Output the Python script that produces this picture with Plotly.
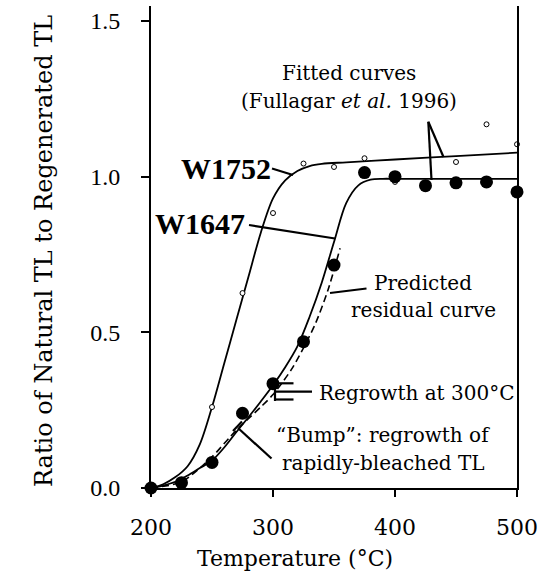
import plotly.graph_objects as go

# ---------------- data ----------------
# W1647: natural/regenerated ratio (filled dots)
t_1647 = [200, 225, 250, 275, 300, 325, 350, 375, 400, 425, 450, 475, 500]
r_1647 = [0.0, 0.017, 0.082, 0.24, 0.335, 0.47, 0.716, 1.013, 1.0, 0.971, 0.98, 0.983, 0.951]

# W1752: natural/regenerated ratio (open dots)
t_1752 = [200, 250, 275, 300, 325, 350, 375, 400, 450, 475, 500]
r_1752 = [0.0, 0.26, 0.626, 0.883, 1.042, 1.031, 1.059, 0.983, 1.047, 1.168, 1.104]

# fitted curve W1752 (Fullagar et al. 1996)
fit_t_1752 = [200, 210, 220, 230, 240, 250, 260, 270, 280, 290, 300, 310, 320, 330, 340, 360, 400, 450, 500]
fit_r_1752 = [0.0, 0.012, 0.035, 0.07, 0.14, 0.26, 0.40, 0.54, 0.68, 0.82, 0.93, 0.988, 1.018, 1.034, 1.041, 1.046, 1.055, 1.066, 1.077]

# fitted curve W1647
fit_t_1647 = [200, 210, 220, 230, 240, 250, 260, 270, 280, 290, 300, 310, 320, 330, 340, 350, 360, 370, 380, 390, 400, 450, 500]
fit_r_1647 = [0.0, 0.008, 0.02, 0.04, 0.064, 0.088, 0.13, 0.18, 0.228, 0.278, 0.33, 0.388, 0.455, 0.55, 0.66, 0.79, 0.915, 0.972, 0.99, 0.993, 0.993, 0.993, 0.993]

# predicted residual curve (dashed)
res_t = [200, 225, 250, 265, 275, 290, 300, 315, 325, 335, 345, 355]
res_r = [0.0, 0.02, 0.10, 0.165, 0.205, 0.26, 0.30, 0.38, 0.45, 0.53, 0.635, 0.77]

x_ticks = [200, 300, 400, 500]
y_ticks = [0.0, 0.5, 1.0, 1.5]
y_ticklabels = ["0.0", "0.5", "1.0", "1.5"]

# ---------------- layout geometry ----------------
W, H = 554, 585
X0, X1 = 200, 500
Y0, Y1 = 0.0, 1.548
ML, MR, MT, MB = 151, 37, 6, 97
PW = W - ML - MR
PH = H - MT - MB


def dx(px):
    return X0 + (px - ML) / PW * (X1 - X0)


def dy(py):
    return Y0 + (H - MB - py) / PH * (Y1 - Y0)


def qx(px):
    return (px - ML) / PW


def qy(py):
    return (H - MB - py) / PH


fig = go.Figure()

fig.add_trace(go.Scatter(x=fit_t_1752, y=fit_r_1752, mode="lines",
                         line=dict(color="black", width=1.8, shape="spline", smoothing=0.9),
                         hoverinfo="skip", showlegend=False))
fig.add_trace(go.Scatter(x=fit_t_1647, y=fit_r_1647, mode="lines",
                         line=dict(color="black", width=1.8, shape="spline", smoothing=0.9),
                         hoverinfo="skip", showlegend=False))
fig.add_trace(go.Scatter(x=res_t, y=res_r, mode="lines",
                         line=dict(color="black", width=1.6, dash="7px,4px", shape="spline", smoothing=0.8),
                         hoverinfo="skip", showlegend=False))
fig.add_trace(go.Scatter(x=t_1752, y=r_1752, mode="markers", cliponaxis=False,
                         marker=dict(size=5, color="white", line=dict(color="black", width=1)),
                         showlegend=False))
fig.add_trace(go.Scatter(x=t_1647, y=r_1647, mode="markers", cliponaxis=False,
                         marker=dict(size=13, color="black"),
                         showlegend=False))

# pointer lines (pixel estimates converted to data units)
pointers = [
    ((272, 168.5), (293, 175)),          # W1752
    ((249, 225), (335, 238.5)),          # W1647
    ((428.3, 121.7), (431.5, 180)),      # fitted curves -> W1647
    ((428.3, 121.7), (443.5, 157)),      # fitted curves -> W1752
    ((330, 293), (366.5, 288.5)),        # predicted residual
    ((275, 391.7), (312, 391.7)),        # regrowth middle prong
    ((275, 383.3), (293.5, 383.3)),      # regrowth upper prong
    ((275, 399.5), (293.5, 399.5)),      # regrowth lower prong
    ((275, 382), (275, 401)),            # regrowth bar
    ((238, 428), (271.5, 458.5)),        # bump
    ((233, 431), (242, 421.5)),          # bump crossbar
]
for (a, b) in pointers:
    fig.add_shape(type="line", xref="x", yref="y",
                  x0=dx(a[0]), y0=dy(a[1]), x1=dx(b[0]), y1=dy(b[1]),
                  line=dict(color="black", width=2.2))

serif = "DejaVu Serif"
texts = [
    ("Fitted curves", 349, 73, "center", 20, serif, 0),
    ("(Fullagar <i>et al.</i> 1996)", 349, 101, "center", 20, serif, 0),
    ("<b>W1752</b>", 273, 168, "right", 30, "Liberation Serif", 0),
    ("<b>W1647</b>", 247, 224, "right", 30, "Liberation Serif", 0),
    ("Predicted", 423, 283, "center", 20, serif, 0),
    ("residual curve", 423, 310, "center", 20, serif, 0),
    ("Regrowth at 300°C", 317, 393, "left", 20, serif, 0),
    ("\u201cBump\u201d: regrowth of", 383, 435, "center", 20, serif, 0),
    ("rapidly-bleached TL", 383, 463, "center", 20, serif, 0),
    ("Temperature (°C)", 295, 558, "center", 22, serif, 0),
    ("Ratio of Natural TL to Regenerated TL", 44, 251, "center", 24, serif, -90),
]
for (txt, px, py, anc, size, fam, ang) in texts:
    fig.add_annotation(text=txt, x=qx(px), y=qy(py), xref="paper", yref="paper",
                       xanchor=anc, yanchor="middle", showarrow=False, textangle=ang,
                       font=dict(family=fam, size=size, color="black"))

fig.update_xaxes(range=[X0, X1], tickvals=x_ticks, ticks="outside", ticklen=7, tickwidth=1.5,
                 tickcolor="black", showline=True, linecolor="black", linewidth=1.8,
                 showgrid=False, zeroline=False, mirror=False,
                 tickfont=dict(family=serif, size=22, color="black"), ticklabelstandoff=12)
fig.update_yaxes(range=[Y0, Y1], tickvals=y_ticks, ticktext=y_ticklabels, ticks="outside",
                 ticklen=8, tickwidth=1.5, tickcolor="black", showline=True, linecolor="black",
                 linewidth=1.8, mirror=True, showgrid=False, zeroline=False,
                 tickfont=dict(family="Liberation Serif", size=24, color="black"),
                 ticklabelstandoff=16)

fig.update_layout(width=W, height=H, margin=dict(l=ML, r=MR, t=MT, b=MB, autoexpand=False),
                  plot_bgcolor="white", paper_bgcolor="white", showlegend=False)

fig.write_html("out.html", config={"displayModeBar": False},
               post_script="document.body.style.margin='0px';document.body.style.overflow='hidden';")
